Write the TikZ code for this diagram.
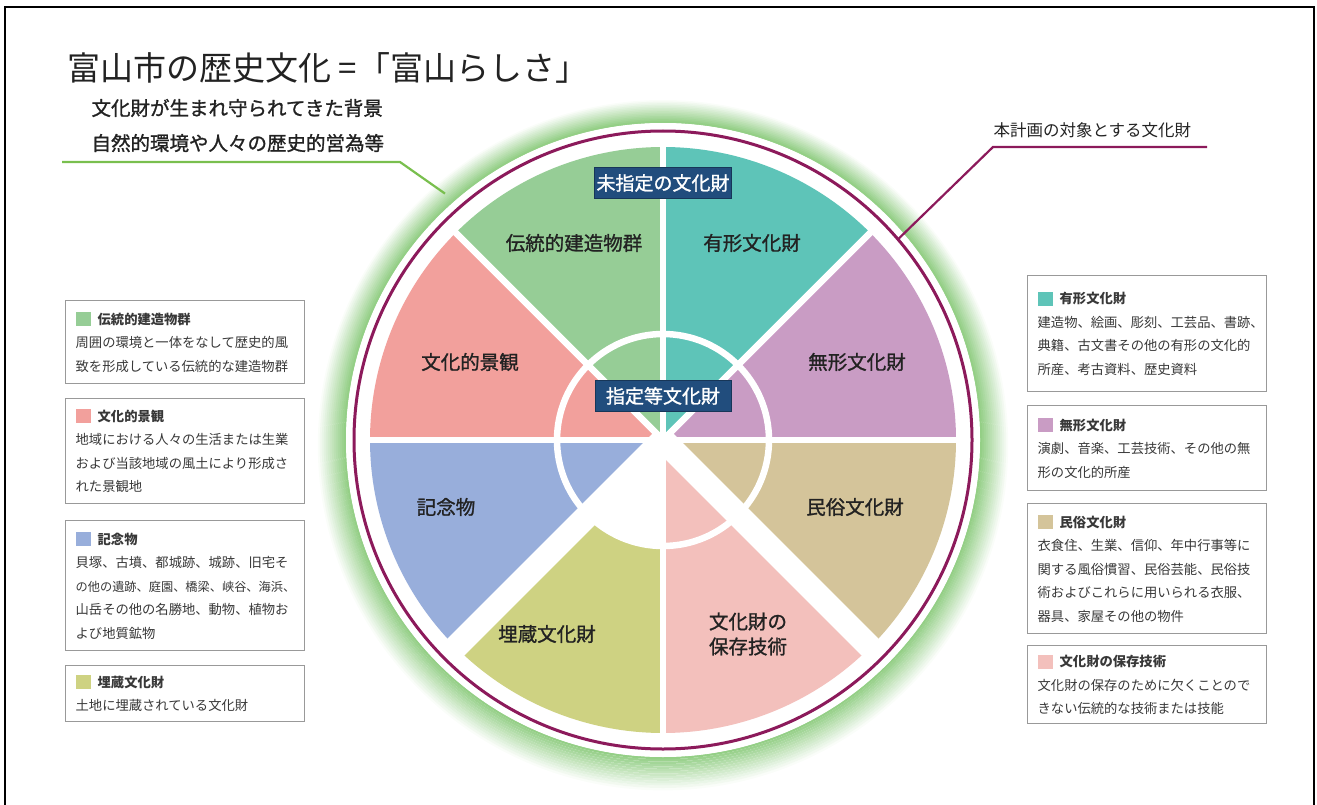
\documentclass[tikz,border=0pt]{standalone}
\usepackage{fontspec}
\usepackage{xcolor}
\setmainfont{Noto Sans CJK JP}
\newfontfamily\medfont[FakeBold=1.2]{Noto Sans CJK JP}
\usetikzlibrary{calc}

\definecolor{dento}{HTML}{96CD96}
\definecolor{yukei}{HTML}{5EC4B8}
\definecolor{keikan}{HTML}{F2A09C}
\definecolor{mukei}{HTML}{C99CC4}
\definecolor{kinen}{HTML}{98AEDB}
\definecolor{minzoku}{HTML}{D4C49A}
\definecolor{maizo}{HTML}{CED282}
\definecolor{hozon}{HTML}{F3C0BC}
\definecolor{navy}{HTML}{214D7D}
\definecolor{plum}{HTML}{8C1A5B}
\definecolor{leaf}{HTML}{79BF4E}
\definecolor{glow}{HTML}{7CC46C}
\definecolor{ink}{HTML}{222222}

\newcommand{\swatch}[1]{\textcolor{#1}{\rule[-2pt]{15pt}{14pt}}\hspace{7pt}}

\begin{document}
\begin{tikzpicture}[x=1pt,y=1pt,
    legendbox/.style={draw=gray!80,line width=1.3pt,fill=white,anchor=north west,
      text width=219pt,inner xsep=10pt,inner ysep=4pt,align=left,text=ink!90,
      font=\fontsize{13.3}{23.5}\selectfont},
    sectorlabel/.style={text=ink,align=center,font=\medfont\fontsize{19.5}{25}\selectfont},
    tagbox/.style={fill=navy,draw=navy!70!black,line width=0.8pt,text=white,
      minimum width=136pt,minimum height=31pt,inner sep=2pt,
      font=\medfont\fontsize{19}{22}\selectfont}]
  \useasboundingbox (0,0) rectangle (1317,-805);
  \draw[line width=2.5pt] (5,-812) -- (5,-7) -- (1314,-7) -- (1314,-812);

  % title and captions
  \node[anchor=west,text=ink,font=\fontsize{33}{36}\selectfont] (title) at (64,-68) {富山市の歴史文化 =「富山らしさ」};
  \node[anchor=west,text=ink,font=\medfont\fontsize{19.5}{22}\selectfont] (bg1) at (88,-108) {文化財が生まれ守られてきた背景};
  \node[anchor=west,text=ink,font=\medfont\fontsize{19.5}{22}\selectfont] (bg2) at (88,-143) {自然的環境や人々の歴史的営為等};
  \node[anchor=west,text=ink,font=\fontsize{16.5}{20}\selectfont] (target) at (990,-130) {本計画の対象とする文化財};

  % wheel
  \begin{scope}[shift={(663,-440)}]
    \foreach \i in {13,...,0}{
      \pgfmathsetmacro{\p}{82-6*\i}
      \draw[line width=2.4pt,glow!\p!white] (0,-0.4*\i) circle[radius=318+2*\i];
    }
    \fill[white] (0,0) circle[radius=317];
    \draw[plum,line width=3pt] (0,0) circle[radius=309];
    \foreach \a/\c in {0/mukei,45/yukei,90/dento,135/keikan,180/kinen,225/maizo,270/hozon,315/minzoku}
      \fill[\c] (0,0) -- (\a:293) arc[start angle=\a,end angle=\a+45,radius=293] -- cycle;
    \fill[white] (0,0) -- (225:106) arc[start angle=225,end angle=270,radius=106] -- cycle;
    \foreach \a in {0,45,90,135,180,270}
      \draw[white,line width=6.5pt] (0,0) -- (\a:296);
    \foreach \a in {225,315}
      \draw[white,line width=24pt] (0,0) -- (\a:296);
    \draw[white,line width=6.5pt] (0,0) circle[radius=106];
    \coordinate (gend) at (131.5:329);
    \coordinate (pend) at (40.5:309);
  \end{scope}

  % leader lines
  \coordinate (gstart) at (62,-162);
  \coordinate (gknee) at (400,-162);
  \coordinate (pstart) at (1207,-147);
  \coordinate (pknee) at (993,-147);
  \draw[leaf,line width=2.2pt] (gstart) -- (gknee) -- (gend);
  \draw[plum,line width=2.2pt] (pstart) -- (pknee) -- (pend);

  \node[tagbox] (mishitei) at (663,-183) {未指定の文化財};
  \node[tagbox] (shitei) at (663,-396) {指定等文化財};

  \begin{scope}[every node/.style={sectorlabel}]
    \node (dento) at (574,-243) {伝統的建造物群};
    \node (yukei) at (752,-243) {有形文化財};
    \node (keikan) at (470,-362) {文化的景観};
    \node (mukei) at (857,-362) {無形文化財};
    \node (kinen) at (446,-507) {記念物};
    \node (minzoku) at (855,-507) {民俗文化財};
    \node (maizo) at (547,-634) {埋蔵文化財};
    \node (hozon) at (748,-634) {文化財の\\保存技術};
  \end{scope}

  % legend boxes
  \begin{scope}[every node/.style={legendbox}]
    \node[minimum height=83pt] (l-dento) at (65,-300) {\swatch{dento}{\bfseries 伝統的建造物群}\\
      周囲の環境と一体をなして歴史的風\\致を形成している伝統的な建造物群};
    \node[minimum height=105pt] (l-keikan) at (65,-398) {\swatch{keikan}{\bfseries 文化的景観}\\
      地域における人々の生活または生業\\および当該地域の風土により形成さ\\れた景観地};
    \node[minimum height=130pt] (l-kinen) at (65,-520) {\swatch{kinen}{\bfseries 記念物}\\
      貝塚、古墳、都城跡、城跡、旧宅そ\\{\fontsize{12.2}{23.5}\selectfont の他の遺跡、庭園、橋梁、峡谷、海浜、}\\山岳その他の名勝地、動物、植物お\\よび地質鉱物};
    \node[minimum height=56pt] (l-maizo) at (65,-665) {\swatch{maizo}{\bfseries 埋蔵文化財}\\
      土地に埋蔵されている文化財};
    \node[minimum height=116pt] (l-yukei) at (1027,-275) {\swatch{yukei}{\bfseries 有形文化財}\\
      建造物、絵画、彫刻、工芸品、書跡、\\典籍、古文書その他の有形の文化的\\所産、考古資料、歴史資料};
    \node[minimum height=85pt] (l-mukei) at (1027,-405) {\swatch{mukei}{\bfseries 無形文化財}\\
      演劇、音楽、工芸技術、その他の無\\形の文化的所産};
    \node[minimum height=130pt] (l-minzoku) at (1027,-503) {\swatch{minzoku}{\bfseries 民俗文化財}\\
      衣食住、生業、信仰、年中行事等に\\関する風俗慣習、民俗芸能、民俗技\\術およびこれらに用いられる衣服、\\器具、家屋その他の物件};
    \node[minimum height=78pt] (l-hozon) at (1027,-645) {\swatch{hozon}{\bfseries 文化財の保存技術}\\
      文化財の保存のために欠くことので\\きない伝統的な技術または技能};
  \end{scope}
\end{tikzpicture}
\end{document}
